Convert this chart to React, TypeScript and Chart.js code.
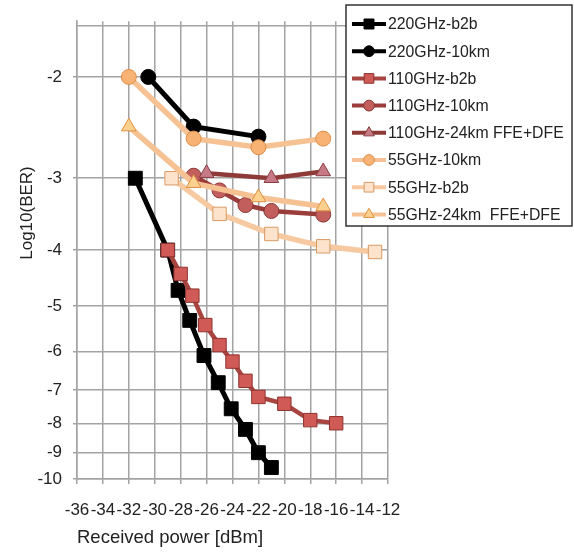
import React, { useEffect, useRef } from 'react';
import { Chart, registerables } from 'chart.js';

Chart.register(...registerables);

// ---- data (x = received power dBm, y = log10(BER)) ----
const labels = [
  '220GHz-b2b',
  '220GHz-10km',
  '110GHz-b2b',
  '110GHz-10km',
  '110GHz-24km FFE+DFE',
  '55GHz-10km',
  '55GHz-b2b',
  '55GHz-24km  FFE+DFE',
];

const x220b2b = [-31.5, -29, -28.2, -27.3, -26.2, -25.1, -24.1, -23, -22, -21];
const y220b2b = [-3, -4, -4.7, -5.3, -6.1, -6.8, -7.55, -8.2, -9, -9.55];

const x220km10 = [-30.5, -27, -22];
const y220km10 = [-2, -2.44, -2.54];

const x110b2b = [-29, -28, -27.1, -26.1, -25, -24, -23, -22, -20, -18, -16];
const y110b2b = [-4, -4.4, -4.8, -5.4, -5.85, -6.25, -6.75, -7.2, -7.4, -7.9, -8.0];

const x110km10 = [-27, -25, -23, -21, -17];
const y110km10 = [-2.97, -3.15, -3.34, -3.42, -3.47];

const x110km24 = [-26, -21, -17];
const y110km24 = [-2.94, -3.0, -2.92];

const x55km10 = [-32, -27, -22, -17];
const y55km10 = [-2, -2.56, -2.65, -2.56];

const x55b2b = [-28.7, -25, -21, -17, -13];
const y55b2b = [-3.0, -3.46, -3.75, -3.94, -4.03];

const x55km24 = [-32, -27, -22, -17];
const y55km24 = [-2.44, -3.06, -3.24, -3.36];

const xMin = -36;
const xMax = -12;
const xStep = 2;
const yTickValues = [2, 3, 4, 5, 6, 7, 8, 9, 10]; // magnitudes of log10(BER)
const yTop = 1.63;
const yBottom = 10;

const FONT = "'Liberation Sans', Arial, Helvetica, sans-serif";

function pts(xs: number[], ys: number[]) {
  return xs.map((x, i) => ({ x, y: -ys[i] }));
}

function drawMarker(ctx: CanvasRenderingContext2D, style: string, x: number, y: number, r: number) {
  ctx.beginPath();
  if (style === 'rect') {
    const s = r * Math.SQRT1_2;
    ctx.rect(x - s, y - s, 2 * s, 2 * s);
  } else if (style === 'triangle') {
    ctx.moveTo(x, y - r);
    ctx.lineTo(x + r * 0.866, y + r * 0.5);
    ctx.lineTo(x - r * 0.866, y + r * 0.5);
    ctx.closePath();
  } else {
    ctx.arc(x, y, r, 0, Math.PI * 2);
  }
  ctx.fill();
  ctx.stroke();
}

const overlayPlugin = {
  id: 'overlay',
  afterDraw(chart: any) {
    const ctx: CanvasRenderingContext2D = chart.ctx;
    ctx.save();
    // y-axis title
    ctx.fillStyle = '#222';
    ctx.font = `17px ${FONT}`;
    ctx.textAlign = 'center';
    ctx.textBaseline = 'middle';
    ctx.translate(27, 213);
    ctx.rotate(-Math.PI / 2);
    ctx.fillText('Log10(BER)', 0, 0);
    ctx.restore();

    // legend box
    ctx.save();
    const x0 = 346, y0 = 5, w = 226, h = 221;
    ctx.fillStyle = '#fff';
    ctx.fillRect(x0, y0, w, h);
    ctx.strokeStyle = '#333';
    ctx.lineWidth = 1.5;
    ctx.strokeRect(x0, y0, w, h);
    chart.data.datasets.forEach((ds: any, i: number) => {
      const cy = y0 + 19 + i * 27.2;
      ctx.strokeStyle = ds.borderColor;
      ctx.lineWidth = 4;
      ctx.beginPath();
      ctx.moveTo(352, cy);
      ctx.lineTo(386, cy);
      ctx.stroke();
      ctx.fillStyle = ds.pointBackgroundColor;
      ctx.strokeStyle = ds.pointBorderColor;
      ctx.lineWidth = 1;
      drawMarker(ctx, ds.pointStyle, 369, cy, ds.pointRadius * 0.72);
      ctx.fillStyle = '#222';
      ctx.font = `15.8px ${FONT}`;
      ctx.textAlign = 'left';
      ctx.textBaseline = 'middle';
      ctx.fillText(ds.label, 388, cy + 1);
    });
    ctx.restore();
  },
};

export default function App() {
  const ref = useRef<HTMLCanvasElement>(null);
  useEffect(() => {
    if (!ref.current) return;
    const mk = (i: number, data: any[], line: string, fill: string, border: string, style: string, r: number, bw: number) => ({
      label: labels[i],
      data,
      borderColor: line,
      borderWidth: bw,
      pointBackgroundColor: fill,
      pointBorderColor: border,
      pointBorderWidth: 1,
      pointStyle: style,
      pointRadius: r,
      tension: 0,
      order: labels.length - i,
    });
    const datasets = [
      mk(0, pts(x220b2b, y220b2b), '#000000', '#000000', '#000000', 'rect', 9.8, 5),
      mk(1, pts(x220km10, y220km10), '#000000', '#000000', '#000000', 'circle', 7.5, 5),
      mk(2, pts(x110b2b, y110b2b), '#a84540', '#d05a55', '#8e3431', 'rect', 9.5, 4.5),
      mk(3, pts(x110km10, y110km10), '#9a3c3a', '#c25e5c', '#8a3634', 'circle', 7.5, 4.5),
      mk(4, pts(x110km24, y110km24), '#8e3a38', '#c67a86', '#8a3c40', 'triangle', 8.5, 4.5),
      mk(5, pts(x55km10, y55km10), '#f6c293', '#f8b274', '#de8e4a', 'circle', 7.5, 5.5),
      mk(6, pts(x55b2b, y55b2b), '#f7c9a0', '#fde3cc', '#d89a64', 'rect', 9.5, 5.5),
      mk(7, pts(x55km24, y55km24), '#f6c293', '#fcd08e', '#de9040', 'triangle', 8.5, 5.5),
    ];
    const gridColor = '#a3a3a3';
    const chart = new Chart(ref.current, {
      type: 'line',
      data: { datasets },
      options: {
        animation: false,
        responsive: false,
        events: [],
        layout: { padding: { left: 0, top: 18, right: 186, bottom: 0 } },
        plugins: { legend: { display: false }, tooltip: { enabled: false } },
        scales: {
          x: {
            type: 'linear',
            min: xMin,
            max: xMax,
            afterFit: (s: any) => { s.height = 77; },
            afterBuildTicks: (s: any) => {
              const t = [];
              for (let v = xMin; v <= xMax; v += xStep) t.push({ value: v });
              s.ticks = t;
            },
            grid: { color: gridColor, lineWidth: 1.5, tickLength: 5, tickColor: gridColor },
            border: { color: gridColor, width: 1.5 },
            ticks: {
              autoSkip: false,
              maxRotation: 0,
              padding: 16,
              color: '#222',
              font: { family: FONT, size: 17 },
              callback: (v: any) => String(v),
            },
            title: {
              display: true,
              text: 'Received power [dBm]',
              align: 'start',
              color: '#222',
              font: { family: FONT, size: 18.5 },
              padding: { top: 0, bottom: 7 },
            },
          },
          y: {
            type: 'logarithmic',
            reverse: true,
            min: yTop,
            max: yBottom,
            afterFit: (s: any) => { s.width = 77; },
            afterBuildTicks: (s: any) => {
              s.ticks = [{ value: yTop }, ...yTickValues.map((v) => ({ value: v }))];
            },
            grid: {
              color: gridColor,
              lineWidth: 1.5,
              tickLength: 4,
              tickColor: (c: any) => (c.tick && c.tick.value < 1.9 ? 'rgba(0,0,0,0)' : gridColor),
            },
            border: { color: gridColor, width: 1.5 },
            ticks: {
              autoSkip: false,
              padding: 11,
              color: '#222',
              font: { family: FONT, size: 17 },
              callback: (v: any) => (Number(v) < 1.9 ? '' : '-' + Math.round(Number(v))),
            },
          },
        },
      } as any,
      plugins: [overlayPlugin],
    });
    return () => chart.destroy();
  }, []);
  return (
    <div style={{ position: 'absolute', left: 0, top: 0, width: 574, height: 556, background: '#fff' }}>
      <canvas ref={ref} width={574} height={556} style={{ display: 'block' }} />
    </div>
  );
}
